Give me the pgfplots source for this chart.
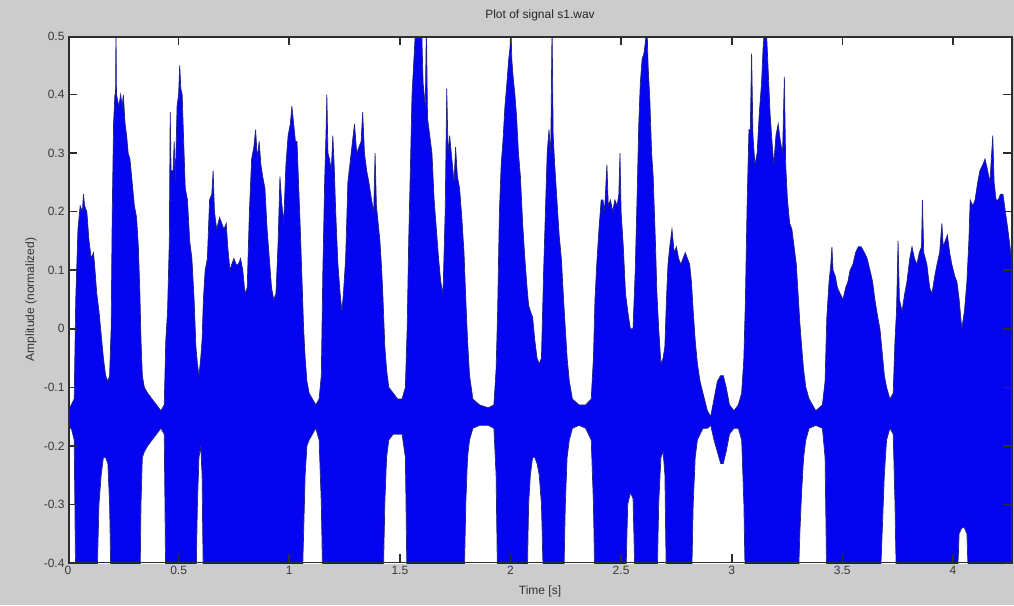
\documentclass[border=0pt]{standalone}
\usepackage{fontspec}
\setmainfont{Liberation Sans}
\usepackage{pgfplots}
\usepackage{pgfplotstable}
\pgfplotsset{compat=1.18}
\definecolor{figbg}{RGB}{204,204,204}
\definecolor{wave}{RGB}{4,4,240}
\definecolor{waveedge}{RGB}{35,35,130}
\definecolor{axgray}{RGB}{45,45,45}
\pgfplotstableread{
t u l
0.000 -0.14 -0.17
0.015 -0.13 -0.17
0.028 -0.12 -0.19
0.035 0.05 -0.45
0.045 0.17 -0.45
0.055 0.21 -0.45
0.065 0.20 -0.45
0.070 0.23 -0.45
0.075 0.21 -0.45
0.085 0.20 -0.45
0.095 0.15 -0.45
0.105 0.12 -0.45
0.115 0.13 -0.45
0.120 0.11 -0.45
0.130 0.06 -0.45
0.140 0.03 -0.30
0.150 -0.01 -0.25
0.160 -0.05 -0.22
0.170 -0.08 -0.22
0.180 -0.09 -0.23
0.188 -0.08 -0.30
0.195 0.00 -0.45
0.200 0.20 -0.45
0.206 0.35 -0.45
0.212 0.40 -0.45
0.215 0.40 -0.45
0.217 0.52 -0.45
0.219 0.40 -0.45
0.230 0.38 -0.45
0.238 0.40 -0.45
0.245 0.38 -0.45
0.250 0.40 -0.45
0.258 0.35 -0.45
0.265 0.33 -0.45
0.272 0.30 -0.45
0.280 0.29 -0.45
0.290 0.25 -0.45
0.300 0.21 -0.45
0.310 0.19 -0.45
0.318 0.14 -0.45
0.325 0.06 -0.45
0.330 -0.02 -0.30
0.336 -0.08 -0.22
0.345 -0.10 -0.21
0.360 -0.11 -0.20
0.380 -0.12 -0.19
0.400 -0.13 -0.18
0.420 -0.14 -0.17
0.435 -0.13 -0.18
0.442 -0.02 -0.45
0.450 0.03 -0.45
0.458 0.15 -0.45
0.462 0.37 -0.45
0.466 0.27 -0.45
0.475 0.27 -0.45
0.480 0.32 -0.45
0.485 0.25 -0.45
0.493 0.38 -0.45
0.500 0.40 -0.45
0.505 0.45 -0.45
0.510 0.41 -0.45
0.516 0.40 -0.45
0.522 0.33 -0.45
0.530 0.24 -0.45
0.540 0.22 -0.45
0.550 0.15 -0.45
0.560 0.12 -0.45
0.570 0.05 -0.45
0.578 -0.03 -0.45
0.585 -0.06 -0.30
0.592 -0.08 -0.22
0.600 -0.05 -0.20
0.606 -0.02 -0.25
0.612 0.05 -0.45
0.620 0.10 -0.45
0.630 0.12 -0.45
0.640 0.22 -0.45
0.650 0.23 -0.45
0.656 0.27 -0.45
0.662 0.20 -0.45
0.672 0.17 -0.45
0.685 0.19 -0.45
0.695 0.18 -0.45
0.705 0.17 -0.45
0.715 0.18 -0.45
0.722 0.14 -0.45
0.732 0.10 -0.45
0.740 0.11 -0.45
0.750 0.12 -0.45
0.760 0.11 -0.45
0.770 0.11 -0.45
0.780 0.12 -0.45
0.790 0.10 -0.45
0.800 0.06 -0.45
0.810 0.07 -0.45
0.820 0.20 -0.45
0.830 0.29 -0.45
0.840 0.31 -0.45
0.848 0.34 -0.45
0.856 0.29 -0.45
0.864 0.32 -0.45
0.872 0.28 -0.45
0.880 0.26 -0.45
0.890 0.24 -0.45
0.900 0.17 -0.45
0.910 0.12 -0.45
0.920 0.07 -0.45
0.930 0.05 -0.45
0.940 0.06 -0.45
0.950 0.15 -0.45
0.958 0.26 -0.45
0.965 0.22 -0.45
0.975 0.18 -0.45
0.985 0.28 -0.45
0.995 0.33 -0.45
1.005 0.35 -0.45
1.012 0.38 -0.45
1.020 0.35 -0.45
1.028 0.32 -0.45
1.035 0.32 -0.45
1.042 0.25 -0.45
1.050 0.17 -0.45
1.058 0.08 -0.45
1.065 0.00 -0.35
1.072 -0.05 -0.25
1.080 -0.09 -0.20
1.090 -0.11 -0.19
1.105 -0.12 -0.18
1.120 -0.13 -0.17
1.135 -0.12 -0.19
1.145 -0.08 -0.30
1.152 0.10 -0.45
1.160 0.25 -0.45
1.166 0.33 -0.45
1.170 0.40 -0.45
1.175 0.30 -0.45
1.182 0.29 -0.45
1.190 0.27 -0.45
1.197 0.33 -0.45
1.203 0.28 -0.45
1.210 0.20 -0.45
1.220 0.11 -0.45
1.230 0.06 -0.45
1.238 0.03 -0.45
1.245 0.06 -0.45
1.255 0.12 -0.45
1.265 0.25 -0.45
1.280 0.30 -0.45
1.295 0.35 -0.45
1.305 0.30 -0.45
1.315 0.31 -0.45
1.325 0.32 -0.45
1.332 0.37 -0.45
1.340 0.30 -0.45
1.350 0.27 -0.45
1.360 0.25 -0.45
1.372 0.22 -0.45
1.382 0.20 -0.45
1.388 0.30 -0.45
1.394 0.21 -0.45
1.402 0.18 -0.45
1.410 0.15 -0.45
1.418 0.10 -0.45
1.424 0.05 -0.45
1.432 -0.03 -0.30
1.440 -0.07 -0.22
1.450 -0.10 -0.19
1.470 -0.11 -0.18
1.490 -0.12 -0.18
1.510 -0.12 -0.18
1.525 -0.10 -0.22
1.533 0.00 -0.45
1.540 0.15 -0.45
1.548 0.28 -0.45
1.555 0.40 -0.45
1.565 0.47 -0.45
1.572 0.52 -0.45
1.598 0.52 -0.45
1.605 0.42 -0.45
1.615 0.38 -0.45
1.620 0.52 -0.45
1.625 0.36 -0.45
1.635 0.33 -0.45
1.645 0.30 -0.45
1.655 0.22 -0.45
1.665 0.17 -0.45
1.675 0.12 -0.45
1.685 0.08 -0.45
1.695 0.06 -0.45
1.705 0.20 -0.45
1.712 0.41 -0.45
1.718 0.30 -0.45
1.725 0.33 -0.45
1.735 0.29 -0.45
1.745 0.25 -0.45
1.752 0.31 -0.45
1.760 0.26 -0.45
1.770 0.24 -0.45
1.780 0.19 -0.45
1.790 0.13 -0.45
1.798 0.05 -0.30
1.806 -0.02 -0.22
1.815 -0.08 -0.19
1.830 -0.12 -0.17
1.860 -0.13 -0.165
1.900 -0.135 -0.165
1.925 -0.13 -0.17
1.935 -0.07 -0.25
1.942 0.03 -0.45
1.950 0.20 -0.45
1.958 0.28 -0.45
1.966 0.32 -0.45
1.975 0.38 -0.45
1.984 0.42 -0.45
1.992 0.46 -0.45
1.998 0.48 -0.45
2.002 0.52 -0.45
2.006 0.46 -0.45
2.012 0.43 -0.45
2.020 0.40 -0.45
2.028 0.36 -0.45
2.036 0.30 -0.45
2.045 0.26 -0.45
2.055 0.18 -0.45
2.065 0.12 -0.45
2.075 0.07 -0.45
2.082 0.04 -0.30
2.090 0.03 -0.25
2.100 0.02 -0.22
2.110 -0.02 -0.22
2.120 -0.05 -0.23
2.130 -0.06 -0.25
2.140 -0.05 -0.30
2.150 0.10 -0.45
2.158 0.20 -0.45
2.166 0.30 -0.45
2.174 0.34 -0.45
2.182 0.30 -0.45
2.188 0.52 -0.45
2.193 0.33 -0.45
2.200 0.28 -0.45
2.210 0.22 -0.45
2.220 0.16 -0.45
2.230 0.12 -0.45
2.240 0.05 -0.45
2.248 0.00 -0.30
2.256 -0.05 -0.22
2.266 -0.09 -0.19
2.280 -0.12 -0.17
2.310 -0.13 -0.165
2.340 -0.13 -0.17
2.365 -0.12 -0.19
2.375 -0.05 -0.30
2.382 0.05 -0.45
2.390 0.11 -0.45
2.400 0.17 -0.45
2.410 0.22 -0.45
2.418 0.22 -0.45
2.425 0.20 -0.45
2.436 0.28 -0.45
2.442 0.21 -0.45
2.452 0.22 -0.45
2.462 0.20 -0.45
2.472 0.22 -0.45
2.482 0.21 -0.45
2.490 0.23 -0.45
2.495 0.30 -0.45
2.500 0.20 -0.45
2.510 0.14 -0.45
2.520 0.06 -0.45
2.530 0.03 -0.30
2.542 0.00 -0.28
2.554 0.00 -0.29
2.564 0.10 -0.45
2.572 0.22 -0.45
2.580 0.35 -0.45
2.587 0.42 -0.45
2.595 0.46 -0.45
2.603 0.47 -0.45
2.610 0.49 -0.45
2.617 0.52 -0.45
2.622 0.45 -0.45
2.630 0.39 -0.45
2.638 0.30 -0.45
2.645 0.26 -0.45
2.655 0.15 -0.45
2.662 0.06 -0.45
2.670 0.00 -0.30
2.680 -0.06 -0.22
2.690 -0.05 -0.21
2.698 -0.03 -0.25
2.705 0.05 -0.45
2.712 0.11 -0.45
2.720 0.14 -0.45
2.730 0.17 -0.45
2.740 0.13 -0.45
2.750 0.14 -0.45
2.760 0.12 -0.45
2.770 0.11 -0.45
2.780 0.12 -0.45
2.790 0.13 -0.45
2.800 0.12 -0.45
2.810 0.11 -0.45
2.818 0.08 -0.45
2.826 0.03 -0.30
2.835 -0.02 -0.22
2.845 -0.06 -0.19
2.857 -0.09 -0.18
2.870 -0.11 -0.17
2.890 -0.14 -0.17
2.905 -0.15 -0.165
2.920 -0.12 -0.19
2.935 -0.09 -0.21
2.950 -0.08 -0.23
2.962 -0.08 -0.23
2.975 -0.10 -0.21
2.990 -0.13 -0.18
3.010 -0.14 -0.17
3.030 -0.13 -0.17
3.045 -0.11 -0.19
3.055 -0.05 -0.30
3.062 0.05 -0.45
3.070 0.22 -0.45
3.078 0.34 -0.45
3.084 0.34 -0.45
3.090 0.47 -0.45
3.096 0.33 -0.45
3.105 0.28 -0.45
3.115 0.30 -0.45
3.125 0.37 -0.45
3.135 0.42 -0.45
3.142 0.48 -0.45
3.150 0.52 -0.45
3.158 0.50 -0.45
3.165 0.44 -0.45
3.173 0.37 -0.45
3.182 0.32 -0.45
3.190 0.28 -0.45
3.200 0.33 -0.45
3.210 0.35 -0.45
3.220 0.32 -0.45
3.230 0.30 -0.45
3.238 0.43 -0.45
3.244 0.28 -0.45
3.252 0.22 -0.45
3.262 0.18 -0.45
3.272 0.17 -0.45
3.282 0.14 -0.45
3.292 0.11 -0.45
3.300 0.06 -0.45
3.308 0.01 -0.35
3.316 -0.03 -0.28
3.325 -0.07 -0.22
3.335 -0.10 -0.19
3.350 -0.12 -0.17
3.380 -0.14 -0.165
3.410 -0.13 -0.17
3.422 -0.09 -0.22
3.430 0.02 -0.45
3.440 0.08 -0.45
3.448 0.11 -0.45
3.453 0.14 -0.45
3.458 0.10 -0.45
3.468 0.09 -0.45
3.478 0.07 -0.45
3.490 0.06 -0.45
3.503 0.05 -0.45
3.515 0.07 -0.45
3.525 0.08 -0.45
3.535 0.10 -0.45
3.548 0.11 -0.45
3.560 0.13 -0.45
3.572 0.14 -0.45
3.585 0.14 -0.45
3.600 0.13 -0.45
3.612 0.12 -0.45
3.625 0.10 -0.45
3.637 0.08 -0.45
3.647 0.05 -0.45
3.660 0.02 -0.45
3.670 0.00 -0.45
3.680 -0.04 -0.35
3.690 -0.08 -0.25
3.700 -0.10 -0.19
3.715 -0.12 -0.17
3.730 -0.11 -0.18
3.738 -0.02 -0.30
3.745 0.03 -0.45
3.752 0.15 -0.45
3.758 0.05 -0.45
3.770 0.03 -0.45
3.782 0.06 -0.45
3.792 0.08 -0.45
3.805 0.12 -0.45
3.815 0.14 -0.45
3.826 0.12 -0.45
3.837 0.11 -0.45
3.848 0.13 -0.45
3.858 0.14 -0.45
3.862 0.22 -0.45
3.868 0.13 -0.45
3.882 0.11 -0.45
3.895 0.07 -0.45
3.905 0.06 -0.45
3.918 0.09 -0.45
3.928 0.11 -0.45
3.940 0.13 -0.45
3.950 0.18 -0.45
3.956 0.14 -0.45
3.965 0.15 -0.45
3.975 0.16 -0.45
3.985 0.13 -0.45
3.995 0.11 -0.45
4.008 0.09 -0.45
4.018 0.08 -0.45
4.028 0.05 -0.35
4.040 0.00 -0.34
4.052 0.03 -0.34
4.063 0.08 -0.35
4.072 0.15 -0.45
4.078 0.22 -0.45
4.090 0.21 -0.45
4.100 0.22 -0.45
4.112 0.25 -0.45
4.122 0.27 -0.45
4.135 0.28 -0.45
4.145 0.29 -0.45
4.157 0.27 -0.45
4.167 0.25 -0.45
4.180 0.33 -0.45
4.186 0.25 -0.45
4.195 0.22 -0.45
4.205 0.22 -0.45
4.215 0.23 -0.45
4.226 0.23 -0.45
4.237 0.20 -0.45
4.248 0.17 -0.45
4.258 0.14 -0.45
4.267 0.11 -0.45
}\wavedata
\begin{document}
\begin{tikzpicture}
\fill[figbg] (0pt,0pt) rectangle (1014pt,605pt);
\fill[white] (68pt,42pt) rectangle (1012pt,569pt);
\begin{axis}[
  at={(68pt,42pt)}, anchor=south west,
  scale only axis, width=944pt, height=527pt,
  xmin=0, xmax=4.267, ymin=-0.4, ymax=0.5,
  axis line style={axgray, line width=1pt},
  tick style={axgray, line width=1pt},
  major tick length=9pt,
  xtick={0,0.5,1,1.5,2,2.5,3,3.5,4},
  ytick={-0.4,-0.3,-0.2,-0.1,0,0.1,0.2,0.3,0.4,0.5},
  yticklabel style={/pgf/number format/fixed, /pgf/number format/precision=1},
  /pgf/number format/assume math mode=true,
  ticklabel style={font=\fontsize{12}{14}\selectfont, text=black!78},
  title={Plot of signal s1.wav},
  title style={at={(axis description cs:0.5,1.0275)}, anchor=center, font=\fontsize{12}{14}\selectfont, text=black!85},
  xlabel={Time [s]},
  xlabel style={at={(axis description cs:0.5,-0.053)}, anchor=center, font=\fontsize{12}{14}\selectfont, text=black!80},
  ylabel={Amplitude (normalized)},
  ylabel style={at={(axis description cs:-0.0392,0.5)}, anchor=center, font=\fontsize{12}{14}\selectfont, text=black!80},
]
\addplot[fill=wave, draw=waveedge, line width=0.7pt, no markers] table[x=t, y=u] {\wavedata} -- (axis cs:4.4,0.11) -- (axis cs:4.4,-0.6) -- (axis cs:-0.1,-0.6) -- (axis cs:-0.1,-0.14) -- cycle;
\addplot[fill=white, draw=waveedge, line width=0.7pt, no markers] table[x=t, y=l] {\wavedata} -- (axis cs:4.4,-0.45) -- (axis cs:4.4,-0.6) -- (axis cs:-0.1,-0.6) -- (axis cs:-0.1,-0.17) -- cycle;
\fill[axgray] (rel axis cs:0,0) rectangle ([xshift=1.5pt]rel axis cs:0,1);
\fill[axgray] ([xshift=-1.5pt]rel axis cs:1,0) rectangle (rel axis cs:1,1);
\fill[axgray] (rel axis cs:0,0) rectangle ([yshift=1.5pt]rel axis cs:1,0);
\fill[axgray] ([yshift=-1.5pt]rel axis cs:0,1) rectangle (rel axis cs:1,1);
\pgfplotsinvokeforeach{0,0.5,1,1.5,2,2.5,3,3.5,4}{
  \fill[axgray] ([xshift=-0.8pt]axis cs:#1,-0.4) rectangle ([xshift=0.8pt,yshift=9pt]axis cs:#1,-0.4);
  \fill[axgray] ([xshift=-0.8pt,yshift=-9pt]axis cs:#1,0.5) rectangle ([xshift=0.8pt]axis cs:#1,0.5);
}
\pgfplotsinvokeforeach{-0.4,-0.3,-0.2,-0.1,0,0.1,0.2,0.3,0.4,0.5}{
  \fill[axgray] ([yshift=-0.8pt]axis cs:0,#1) rectangle ([xshift=9pt,yshift=0.8pt]axis cs:0,#1);
  \fill[axgray] ([xshift=-9pt,yshift=-0.8pt]axis cs:4.267,#1) rectangle ([yshift=0.8pt]axis cs:4.267,#1);
}
\end{axis}
\end{tikzpicture}
\end{document}
